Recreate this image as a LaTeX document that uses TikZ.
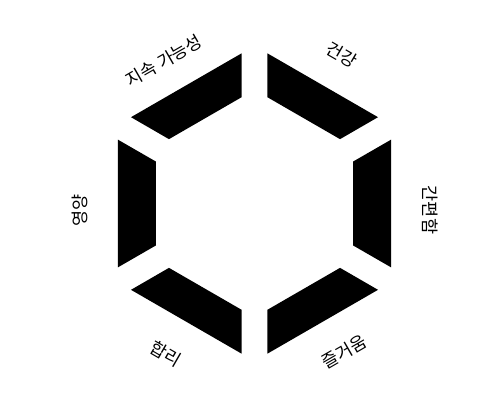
\documentclass[tikz,border=0pt]{standalone}
\usepackage{fontspec}
\newfontfamily\kr{Noto Sans CJK KR}
\begin{document}
\begin{tikzpicture}[x=1pt,y=1pt,lab/.style={font=\kr\fontsize{17.5}{20}\selectfont,inner sep=0pt}]
\useasboundingbox (-254.5,-196.5) rectangle (245.5,203.5);
\foreach \a in {0,60,...,300}
{
    \fill[rotate=\a] (136.5,-63.8)--(136.5,63.8)--(98.5,41.9)--(98.5,-41.9)--cycle;
}

\node[lab,rotate=30] (sustain) at (-90.5,142.5){지속 가능성};
\node[lab,rotate=-30] (health) at (87.5,148.5){건강};
\node[lab,rotate=-90] (easy) at (175.5,-6.5){간편함};
\node[lab,rotate=90] (nutri) at (-174.5,-6.5){영양};
\node[lab,rotate=-30] (reason) at (-88.5,-150.5){합리};
\node[lab,rotate=30] (fun) at (89.5,-148){즐거움};
\end{tikzpicture}
\end{document}
